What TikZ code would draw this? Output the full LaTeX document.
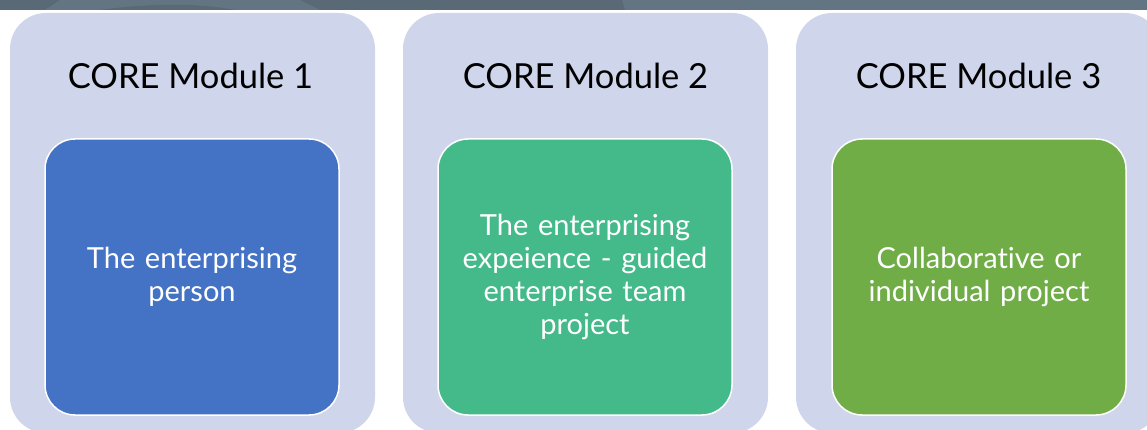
\documentclass[tikz,border=0pt]{standalone}
\usepackage{fontspec}
\setmainfont{Lato}[Ligatures=NoCommon]
\definecolor{band}{HTML}{596976}
\definecolor{bandlight}{HTML}{637483}
\definecolor{lavender}{HTML}{CFD5EA}
\definecolor{modblue}{HTML}{4472C4}
\definecolor{modteal}{HTML}{44BA8B}
\definecolor{modgreen}{HTML}{70AD47}
\tikzset{
  outerbox/.style={rectangle, fill=lavender, rounded corners=36pt, inner sep=0pt,
    minimum width=365pt, minimum height=420pt},
  titletext/.style={inner sep=0pt, font=\fontsize{34.5}{38}\selectfont, text=black},
  innerbox/.style={rectangle, draw=white, line width=1.5pt, rounded corners=30pt,
    inner sep=0pt, minimum width=294pt, minimum height=276pt,
    text width=270pt, align=center, text=white,
    font=\fontsize{29}{33.3}\selectfont},
}
\begin{document}
\begin{tikzpicture}[x=1pt,y=-1pt]
\useasboundingbox (0,0) rectangle (1147,430);
% header band
\fill[band] (0,0) rectangle (1147,10);
\fill[bandlight] (45,10) -- (60,0) -- (300,0) -- (320,10) -- cycle;
\fill[band] (100,10) .. controls (150,3) and (200,3) .. (235,10) -- cycle;
\fill[bandlight] (625,10) -- (622,0) -- (1147,0) -- (1147,10) -- cycle;
% columns
\node[outerbox] (col1) at (192.5,223) {};
\node[outerbox] (col2) at (585.5,223) {};
\node[outerbox] (col3) at (978.5,223) {};
\node[titletext] (t1) at (190.5,76) {CORE Module 1};
\node[titletext] (t2) at (585.5,76) {CORE Module 2};
\node[titletext] (t3) at (978.5,76) {CORE Module 3};
\node[innerbox, fill=modblue] (m1) at (192,277) {The enterprising\\person};
\node[innerbox, fill=modteal] (m2) at (585,277) {The enterprising\\expeience - guided\\enterprise team\\project};
\node[innerbox, fill=modgreen] (m3) at (979,277) {Collaborative or\\individual project};
\end{tikzpicture}
\end{document}
